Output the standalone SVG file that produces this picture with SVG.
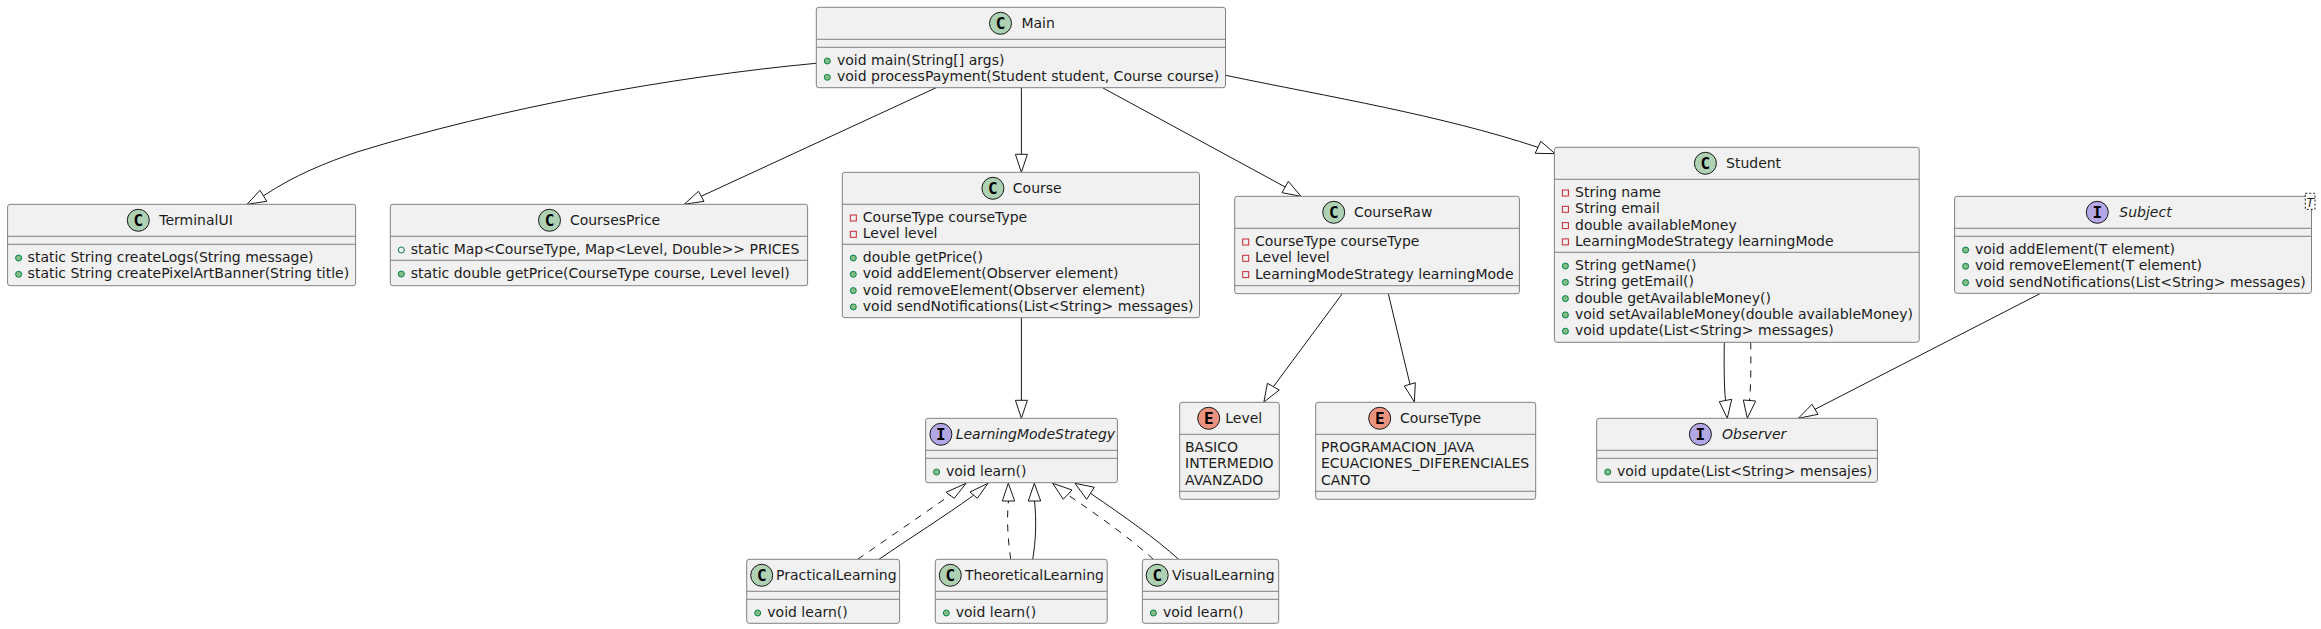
<svg xmlns="http://www.w3.org/2000/svg" width="2321" height="629" viewBox="0 0 2321 629">
<style>
text{font-family:"DejaVu Sans","Noto Sans",sans-serif;font-size:14px;fill:#1c1c1c}
.box{fill:#F1F1F1;stroke:#808080;stroke-width:1}
.sep{stroke:#808080;stroke-width:1;fill:none}
.c{stroke:#181818;stroke-width:1}
.cc{fill:#ADD1B2}.ci{fill:#B4A7E5}.ce{fill:#EB937F}
text.g{font-family:"DejaVu Sans Mono",monospace;font-weight:bold;font-size:16px;text-anchor:middle;fill:#000}
text.it{font-style:italic}
.pub{fill:#84BE84;stroke:#038048;stroke-width:1}
.pubo{fill:none;stroke:#038048;stroke-width:1}
.pri{fill:none;stroke:#C82930;stroke-width:1}
#connectors path{fill:none;stroke:#181818;stroke-width:1}
#connectors path.d{stroke-dasharray:7,7}
#connectors polygon{fill:none;stroke:#181818;stroke-width:1}
</style>
<defs>
<circle id="p" class="pub" r="3"/>
<circle id="o" class="pubo" r="3"/>
<rect id="s" class="pri" x="-3" y="-3" width="6" height="6"/>
</defs>
<g id="connectors">
<path d="M816,63.3C670,77 500,108 357,152C325,163 295,175 263.5,195.8"/><polygon points="247,204.3 260,190.3 266.8,201.3"/>
<path d="M936.2,87.7L701.2,196.3"/><polygon points="684.2,204.3 698.5,191.3 704,201.3"/>
<path d="M1021.4,87.7L1021.4,154.3"/><polygon points="1021.4,172.3 1015.4,154.3 1027.4,154.3"/>
<path d="M1103,88L1285.2,187"/><polygon points="1301,196.3 1288.3,181.3 1282,192.7"/>
<path d="M1225.5,75.3C1330,97 1440,115 1538,147.3"/><polygon points="1555,153.7 1540.8,141.3 1535.2,153.3"/>
<path d="M1021.4,317.7L1021.4,400.3"/><polygon points="1021.4,418.3 1015.4,400.3 1027.4,400.3"/>
<path d="M1342.3,293.7L1273.4,386.7"/><polygon points="1263.9,402 1267.4,383.3 1279.3,390"/>
<path d="M1388.3,293.7L1410,384.3"/><polygon points="1414.4,402 1404.3,386 1415.3,382.7"/>
<path d="M1724.3,342.3C1724,365 1724,385 1725.5,400.5"/><polygon points="1727.3,418.3 1719.3,401.7 1731.7,399.3"/>
<path class="d" d="M1750.7,342.3C1751,365 1751,385 1749.5,400.5"/><polygon points="1747.3,418.3 1743.3,400 1755.7,401"/>
<path d="M2040.7,293.3L1815,409.3"/><polygon points="1798.3,418.3 1812,404.3 1818,414.3"/>
<path class="d" d="M857.7,559.3L950.1,495.3"/><polygon points="966,483.3 946,492.3 954.3,498.3"/>
<path d="M879,559.3C910,538 945,516 973.7,495.2"/><polygon points="988,483.3 970,492 977.3,498.3"/>
<path class="d" d="M1010.7,559.3C1008,540 1006.5,520 1008.5,501"/><polygon points="1008.3,483.3 1002.3,501 1014.7,501"/>
<path d="M1032.7,559.3C1036,540 1036.5,520 1034.5,501"/><polygon points="1034.3,483.3 1028.3,501 1040.7,501"/>
<path class="d" d="M1153.3,559.3C1130,538 1100,517 1067.7,494.7"/><polygon points="1052.7,483.3 1063.3,499.3 1072,490"/>
<path d="M1178.7,559.3C1155,538 1125,517 1090.5,493.3"/><polygon points="1075,483.3 1086.7,499.3 1094.3,487.3"/>
</g>
<g id="TerminalUI">
<rect class="box" x="7.6" y="204.3" width="348" height="81.4" rx="2.5"/>
<path class="sep" d="M7.6,236.3H355.6M7.6,244.3H355.6"/>
<circle class="c cc" cx="138.3" cy="220.3" r="11"/><text class="g" x="138.3" y="225.8">C</text>
<text x="159.3" y="225.3">TerminalUI</text>
<use href="#p" x="18.6" y="258"/><text x="27.6" y="262">static String createLogs(String message)</text>
<use href="#p" x="18.6" y="274.3"/><text x="27.6" y="278.3">static String createPixelArtBanner(String title)</text>
</g>
<g id="CoursesPrice">
<rect class="box" x="390.3" y="204.3" width="417.3" height="81.4" rx="2.5"/>
<path class="sep" d="M390.3,236.3H807.6M390.3,260.3H807.6"/>
<circle class="c cc" cx="549.5" cy="220.3" r="11"/><text class="g" x="549.5" y="225.8">C</text>
<text x="569.9" y="225.3">CoursesPrice</text>
<use href="#o" x="401.3" y="250"/><text x="410.8" y="254">static Map&lt;CourseType, Map&lt;Level, Double&gt;&gt; PRICES</text>
<use href="#p" x="401.3" y="274"/><text x="410.8" y="278">static double getPrice(CourseType course, Level level)</text>
</g>
<g id="Main">
<rect class="box" x="816.3" y="7.3" width="409.2" height="80.4" rx="2.5"/>
<path class="sep" d="M816.3,39.3H1225.5M816.3,47.3H1225.5"/>
<circle class="c cc" cx="1000.5" cy="23.3" r="11"/><text class="g" x="1000.5" y="28.8">C</text>
<text x="1021.4" y="28.3">Main</text>
<use href="#p" x="827.3" y="61"/><text x="837" y="65">void main(String[] args)</text>
<use href="#p" x="827.3" y="77.3"/><text x="837" y="81.3">void processPayment(Student student, Course course)</text>
</g>
<g id="Course">
<rect class="box" x="842.3" y="172.3" width="357.2" height="145.4" rx="2.5"/>
<path class="sep" d="M842.3,204.3H1199.5M842.3,244.3H1199.5"/>
<circle class="c cc" cx="992.9" cy="188.3" r="11"/><text class="g" x="992.9" y="193.8">C</text>
<text x="1012.8" y="193.3">Course</text>
<use href="#s" x="853.3" y="218"/><text x="862.8" y="222">CourseType courseType</text>
<use href="#s" x="853.3" y="234.3"/><text x="862.8" y="238.3">Level level</text>
<use href="#p" x="853.3" y="258"/><text x="862.8" y="262">double getPrice()</text>
<use href="#p" x="853.3" y="274.3"/><text x="862.8" y="278.3">void addElement(Observer element)</text>
<use href="#p" x="853.3" y="290.6"/><text x="862.8" y="294.6">void removeElement(Observer element)</text>
<use href="#p" x="853.3" y="306.9"/><text x="862.8" y="310.9">void sendNotifications(List&lt;String&gt; messages)</text>
</g>
<g id="CourseRaw">
<rect class="box" x="1234.7" y="196.3" width="284.7" height="97.4" rx="2.5"/>
<path class="sep" d="M1234.7,228.3H1519.4M1234.7,285.7H1519.4"/>
<circle class="c cc" cx="1333.7" cy="212.3" r="11"/><text class="g" x="1333.7" y="217.8">C</text>
<text x="1354" y="217.3">CourseRaw</text>
<use href="#s" x="1245.7" y="242"/><text x="1255" y="246">CourseType courseType</text>
<use href="#s" x="1245.7" y="258.3"/><text x="1255" y="262.3">Level level</text>
<use href="#s" x="1245.7" y="274.6"/><text x="1255" y="278.6">LearningModeStrategy learningMode</text>
</g>
<g id="Student">
<rect class="box" x="1554.4" y="147.3" width="364.8" height="195" rx="2.5"/>
<path class="sep" d="M1554.4,179.3H1919.2M1554.4,252.3H1919.2"/>
<circle class="c cc" cx="1705.4" cy="163.3" r="11"/><text class="g" x="1705.4" y="168.8">C</text>
<text x="1726" y="168.3">Student</text>
<use href="#s" x="1565.4" y="193"/><text x="1575" y="197">String name</text>
<use href="#s" x="1565.4" y="209.3"/><text x="1575" y="213.3">String email</text>
<use href="#s" x="1565.4" y="225.6"/><text x="1575" y="229.6">double availableMoney</text>
<use href="#s" x="1565.4" y="241.9"/><text x="1575" y="245.9">LearningModeStrategy learningMode</text>
<use href="#p" x="1565.4" y="266"/><text x="1575" y="270">String getName()</text>
<use href="#p" x="1565.4" y="282.3"/><text x="1575" y="286.3">String getEmail()</text>
<use href="#p" x="1565.4" y="298.6"/><text x="1575" y="302.6">double getAvailableMoney()</text>
<use href="#p" x="1565.4" y="314.9"/><text x="1575" y="318.9">void setAvailableMoney(double availableMoney)</text>
<use href="#p" x="1565.4" y="331.2"/><text x="1575" y="335.2">void update(List&lt;String&gt; messages)</text>
</g>
<g id="Subject">
<rect class="box" x="1954.6" y="196.3" width="356.9" height="97" rx="2.5"/>
<path class="sep" d="M1954.6,228.3H2311.5M1954.6,236.3H2311.5"/>
<circle class="c ci" cx="2097.3" cy="212.3" r="11"/><text class="g" x="2097.3" y="217.8">I</text>
<text class="it" x="2119.3" y="217.3">Subject</text>
<use href="#p" x="1965.6" y="250"/><text x="1975" y="254">void addElement(T element)</text>
<use href="#p" x="1965.6" y="266.3"/><text x="1975" y="270.3">void removeElement(T element)</text>
<use href="#p" x="1965.6" y="282.6"/><text x="1975" y="286.6">void sendNotifications(List&lt;String&gt; messages)</text>
<rect x="2305.3" y="193.3" width="9.7" height="16" fill="#fff" stroke="#181818" stroke-width="1" stroke-dasharray="2,2"/>
<text class="it" x="2306.6" y="206.5" style="font-size:12px">T</text>
</g>
<g id="Observer">
<rect class="box" x="1596.7" y="418.3" width="280.7" height="64" rx="2.5"/>
<path class="sep" d="M1596.7,450.3H1877.4M1596.7,458.3H1877.4"/>
<circle class="c ci" cx="1700.4" cy="434.3" r="11"/><text class="g" x="1700.4" y="439.8">I</text>
<text class="it" x="1722.1" y="439.3">Observer</text>
<use href="#p" x="1607.7" y="472"/><text x="1617" y="476">void update(List&lt;String&gt; mensajes)</text>
</g>
<g id="LearningModeStrategy">
<rect class="box" x="925.6" y="418.3" width="191.8" height="64.4" rx="2.5"/>
<path class="sep" d="M925.6,450.3H1117.4M925.6,458.3H1117.4"/>
<circle class="c ci" cx="940.9" cy="434.3" r="11"/><text class="g" x="940.9" y="439.8">I</text>
<text class="it" x="955.7" y="439.3">LearningModeStrategy</text>
<use href="#p" x="936.6" y="472"/><text x="946" y="476">void learn()</text>
</g>
<g id="PracticalLearning">
<rect class="box" x="746.7" y="559.3" width="152.9" height="64" rx="2.5"/>
<path class="sep" d="M746.7,591.3H899.6M746.7,599.3H899.6"/>
<circle class="c cc" cx="761.7" cy="575.3" r="11"/><text class="g" x="761.7" y="580.8">C</text>
<text x="776" y="580.3">PracticalLearning</text>
<use href="#p" x="757.7" y="613"/><text x="767.3" y="617">void learn()</text>
</g>
<g id="TheoreticalLearning">
<rect class="box" x="935.3" y="559.3" width="171.9" height="64" rx="2.5"/>
<path class="sep" d="M935.3,591.3H1107.2M935.3,599.3H1107.2"/>
<circle class="c cc" cx="950.3" cy="575.3" r="11"/><text class="g" x="950.3" y="580.8">C</text>
<text x="965" y="580.3">TheoreticalLearning</text>
<use href="#p" x="946.3" y="613"/><text x="955.7" y="617">void learn()</text>
</g>
<g id="VisualLearning">
<rect class="box" x="1142.4" y="559.3" width="136.3" height="64" rx="2.5"/>
<path class="sep" d="M1142.4,591.3H1278.7M1142.4,599.3H1278.7"/>
<circle class="c cc" cx="1157.2" cy="575.3" r="11"/><text class="g" x="1157.2" y="580.8">C</text>
<text x="1172" y="580.3">VisualLearning</text>
<use href="#p" x="1153.4" y="613"/><text x="1162.9" y="617">void learn()</text>
</g>
<g id="Level">
<rect class="box" x="1179.7" y="402.3" width="99.6" height="97" rx="2.5"/>
<path class="sep" d="M1179.7,434.3H1279.3M1179.7,491.3H1279.3"/>
<circle class="c ce" cx="1208.7" cy="418.3" r="11"/><text class="g" x="1208.7" y="423.8">E</text>
<text x="1225.3" y="423.3">Level</text>
<text x="1185" y="452">BASICO</text>
<text x="1185" y="468.3">INTERMEDIO</text>
<text x="1185" y="484.6">AVANZADO</text>
</g>
<g id="CourseType">
<rect class="box" x="1315.7" y="402.3" width="220" height="97" rx="2.5"/>
<path class="sep" d="M1315.7,434.3H1535.7M1315.7,491.3H1535.7"/>
<circle class="c ce" cx="1379.7" cy="418.3" r="11"/><text class="g" x="1379.7" y="423.8">E</text>
<text x="1400" y="423.3">CourseType</text>
<text x="1321" y="452">PROGRAMACION_JAVA</text>
<text x="1321" y="468.3">ECUACIONES_DIFERENCIALES</text>
<text x="1321" y="484.6">CANTO</text>
</g>
</svg>
